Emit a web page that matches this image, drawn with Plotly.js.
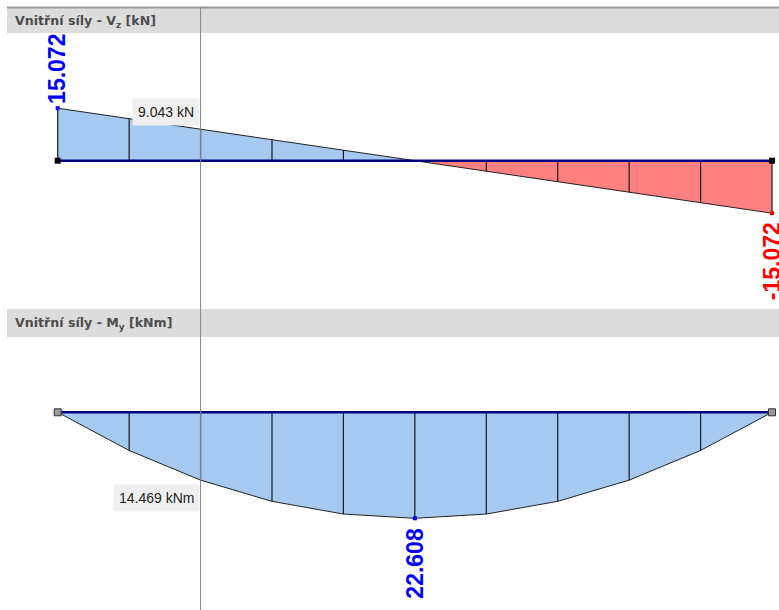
<!DOCTYPE html>
<html><head><meta charset="utf-8">
<script src="https://cdn.plot.ly/plotly-3.0.1.min.js"></script>
<style>html,body{margin:0;padding:0;background:#fff;}#chart{width:779px;height:610px;}</style>
</head><body><div id="chart"></div>
<script>
// relative position along beam (x/L)
var positions = [0, 0.1, 0.2, 0.3, 0.4, 0.5, 0.6, 0.7, 0.8, 0.9, 1.0];
// shear force Vz [kN]
var shearVz = [15.072, 12.058, 9.043, 6.029, 3.014, 0, -3.014, -6.029, -9.043, -12.058, -15.072];
// bending moment My [kNm]
var momentMy = [0, 8.139, 14.469, 18.991, 21.704, 22.608, 21.704, 18.991, 14.469, 8.139, 0];
var cursorPos = 0.2;
var cursorIndex = 2;
var panelTitles = ["Vnitřní síly - V<sub>z</sub> [kN]", "Vnitřní síly - M<sub>y</sub> [kNm]"];
var units = ["kN", "kNm"];

var BLUE = "#a6c9ef", RED = "#ff8080";
var traces = [];

// shear: positive part and negative part
var posX = [], posY = [], negX = [], negY = [];
positions.forEach(function (p, i) {
  if (shearVz[i] >= 0) { posX.push(p); posY.push(shearVz[i]); }
  if (shearVz[i] <= 0) { negX.push(p); negY.push(shearVz[i]); }
});
traces.push({x: posX, y: posY, yaxis: "y", type: "scatter", mode: "lines", fill: "tozeroy",
  fillcolor: BLUE, line: {color: "#222", width: 1}, hoverinfo: "skip"});
traces.push({x: negX, y: negY, yaxis: "y", type: "scatter", mode: "lines", fill: "tozeroy",
  fillcolor: RED, line: {color: "#222", width: 1}, hoverinfo: "skip"});

// division lines shear
var dvx = [], dvy = [];
positions.forEach(function (p, i) { dvx.push(p, p, null); dvy.push(0, shearVz[i], null); });
traces.push({x: dvx, y: dvy, yaxis: "y", type: "scatter", mode: "lines",
  line: {color: "#1a1a1a", width: 1.2}, hoverinfo: "skip", connectgaps: false});

// moment
traces.push({x: positions, y: momentMy, yaxis: "y2", type: "scatter", mode: "lines", fill: "tozeroy",
  fillcolor: BLUE, line: {color: "#222", width: 1}, hoverinfo: "skip"});
var dmx = [], dmy = [];
positions.forEach(function (p, i) { dmx.push(p, p, null); dmy.push(0, momentMy[i], null); });
traces.push({x: dmx, y: dmy, yaxis: "y2", type: "scatter", mode: "lines",
  line: {color: "#1a1a1a", width: 1.2}, hoverinfo: "skip"});

// beam lines
var ends = [positions[0], positions[positions.length - 1]];
traces.push({x: ends, y: [0, 0], yaxis: "y", type: "scatter", mode: "lines+markers",
  line: {color: "#000080", width: 2.5}, marker: {symbol: "square", size: 6, color: "#000"}, hoverinfo: "skip"});
traces.push({x: ends, y: [0, 0], yaxis: "y2", type: "scatter", mode: "lines+markers",
  line: {color: "#000080", width: 2.5}, marker: {symbol: "square", size: 7, color: "#999", line: {color: "#333", width: 1}}, hoverinfo: "skip"});

// extreme points
var n = positions.length;
var midI = momentMy.indexOf(Math.max.apply(null, momentMy));
traces.push({x: [positions[0]], y: [shearVz[0]], yaxis: "y", type: "scatter", mode: "markers",
  marker: {color: "#0000ff", size: 4, symbol: "square"}, hoverinfo: "skip"});
traces.push({x: [positions[n - 1]], y: [shearVz[n - 1]], yaxis: "y", type: "scatter", mode: "markers",
  marker: {color: "#ff0000", size: 4, symbol: "square"}, hoverinfo: "skip"});
traces.push({x: [positions[midI]], y: [momentMy[midI]], yaxis: "y2", type: "scatter", mode: "markers",
  marker: {color: "#0000ff", size: 4, symbol: "square"}, hoverinfo: "skip"});

var bigFont = {family: "Liberation Sans, Arial, sans-serif", size: 23, color: "#0000ff", weight: "bold"};
var boxFont = {family: "Liberation Sans, Arial, sans-serif", size: 14, color: "#222"};
var headFont = {family: "DejaVu Sans, Verdana, sans-serif", size: 12.6, color: "#4d4d4d", weight: "bold"};
var annotations = [
  {x: positions[0], y: shearVz[0], xref: "x", yref: "y", text: "<b>" + shearVz[0].toFixed(3) + "</b>",
   textangle: -90, showarrow: false, xanchor: "center", yanchor: "bottom", yshift: 3, xshift: -1,
   bgcolor: "#ffffff", borderpad: 0, font: bigFont},
  {x: positions[n - 1], y: shearVz[n - 1], xref: "x", yref: "y", text: "<b>" + shearVz[n - 1].toFixed(3) + "</b>",
   textangle: -90, showarrow: false, xanchor: "center", yanchor: "top", yshift: -7,
   font: Object.assign({}, bigFont, {color: "#ff0000"})},
  {x: positions[midI], y: momentMy[midI], xref: "x", yref: "y2", text: "<b>" + momentMy[midI].toFixed(3) + "</b>",
   textangle: -90, showarrow: false, xanchor: "center", yanchor: "top", yshift: -7, font: bigFont},
  {x: cursorPos, y: shearVz[cursorIndex], xref: "x", yref: "y", text: shearVz[cursorIndex].toFixed(3) + " " + units[0],
   showarrow: false, xanchor: "right", yanchor: "bottom", xshift: -1, yshift: 3,
   bgcolor: "#efefef", borderpad: 5, font: boxFont},
  {x: cursorPos, y: momentMy[cursorIndex], xref: "x", yref: "y2", text: momentMy[cursorIndex].toFixed(3) + " " + units[1],
   showarrow: false, xanchor: "right", yanchor: "top", xshift: -1, yshift: -4,
   bgcolor: "#efefef", borderpad: 5, font: boxFont},
  {x: 13 / 779, y: 1 - 21 / 610, xref: "paper", yref: "paper", text: panelTitles[0], showarrow: false,
   xanchor: "left", yanchor: "middle", font: headFont},
  {x: 13 / 779, y: 1 - 323 / 610, xref: "paper", yref: "paper", text: panelTitles[1], showarrow: false,
   xanchor: "left", yanchor: "middle", font: headFont}
];

var W = 779, H = 610;
function py(p) { return 1 - p / H; }
var shapes = [
  {type: "rect", xref: "paper", yref: "paper", x0: 7 / W, x1: 1, y0: py(33), y1: py(8), fillcolor: "#dcdcdc", line: {width: 0}, layer: "below"},
  {type: "line", xref: "paper", yref: "paper", x0: 7 / W, x1: 1, y0: py(7.5), y1: py(7.5), line: {color: "#999", width: 2}, layer: "below"},
  {type: "rect", xref: "paper", yref: "paper", x0: 7 / W, x1: 1, y0: py(337), y1: py(309), fillcolor: "#dcdcdc", line: {width: 0}, layer: "below"},
  {type: "line", xref: "x", yref: "paper", x0: cursorPos, x1: cursorPos, y0: 0, y1: py(7), line: {color: "#888", width: 1}, layer: "above"}
];

// axis scaling: beam from px 57.7 to 772
var xL = 57.7, xR = 772;
var span = 1 / ((xR - xL) / W);
var x0 = -xL / (xR - xL);
var s1 = 3.483, z1 = 160.7;     // px per kN, zero line px
var s2 = 4.6886, z2 = 412.3;    // px per kNm, zero line px

var layout = {
  width: W, height: H, margin: {l: 0, r: 0, t: 0, b: 0},
  paper_bgcolor: "#fff", plot_bgcolor: "rgba(0,0,0,0)", showlegend: false,
  xaxis: {range: [x0, x0 + span], visible: false, fixedrange: true},
  yaxis: {range: [-(H - z1) / s1, z1 / s1], visible: false, fixedrange: true},
  yaxis2: {range: [(H - z2) / s2, -z2 / s2], overlaying: "y", visible: false, fixedrange: true},
  shapes: shapes, annotations: annotations
};
Plotly.newPlot("chart", traces, layout, {displayModeBar: false, staticPlot: true});
</script></body></html>
